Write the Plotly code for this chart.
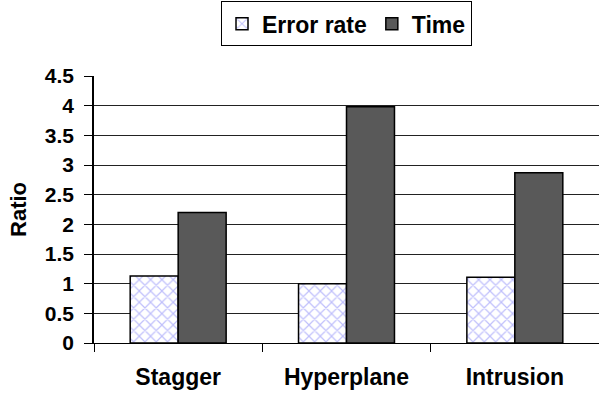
import plotly.graph_objects as go

categories = ["Stagger", "Hyperplane", "Intrusion"]
error_rate = [1.13, 1.0, 1.11]
time_ratio = [2.2, 3.98, 2.87]
y_ticks = [0, 0.5, 1, 1.5, 2, 2.5, 3, 3.5, 4, 4.5]
y_tick_labels = ["0", "0.5", "1", "1.5", "2", "2.5", "3", "3.5", "4", "4.5"]

FONT = "Liberation Sans, Arial, sans-serif"

fig = go.Figure()
fig.add_trace(go.Bar(
    name="Error rate", x=categories, y=error_rate,
    marker=dict(color="white",
                line=dict(color="black", width=1.5),
                pattern=dict(shape="x", fgcolor="#8080f8", bgcolor="white",
                             size=8, solidity=0.28)),
))
fig.add_trace(go.Bar(
    name="Time", x=categories, y=time_ratio,
    marker=dict(color="#595959", line=dict(color="black", width=1.5)),
))

fig.update_layout(
    width=599, height=393,
    margin=dict(l=94, r=0, t=76, b=50),
    paper_bgcolor="white", plot_bgcolor="white",
    barmode="group", bargap=0.43, bargroupgap=0,
    font=dict(family=FONT, size=21, color="black", weight="bold"),
    legend=dict(orientation="h", x=0.5, xanchor="center", y=1.28, yanchor="top",
                bordercolor="black", borderwidth=1,
                font=dict(family=FONT, size=23, color="black", weight="bold"),
                itemwidth=30, tracegroupgap=0),
    showlegend=True,
)
fig.update_xaxes(
    showline=True, linecolor="black", linewidth=1,
    ticks="outside", tickson="boundaries", ticklen=8, tickcolor="black",
    ticklabelstandoff=13,
    tickfont=dict(family=FONT, size=23, color="black", weight="bold"),
    showgrid=False,
)
fig.update_yaxes(
    range=[0, 4.5], tickvals=y_ticks, ticktext=y_tick_labels,
    showline=True, linecolor="black", linewidth=1.5,
    ticks="outside", ticklen=8, tickcolor="black",
    ticklabelstandoff=6,
    tickfont=dict(family=FONT, size=21, color="black", weight="bold"),
    showgrid=True, gridcolor="#222", gridwidth=1,
    zeroline=False,
    title=dict(text="Ratio", font=dict(family=FONT, size=22, color="black", weight="bold"),
               standoff=12),
)

fig.write_html("out.html")
